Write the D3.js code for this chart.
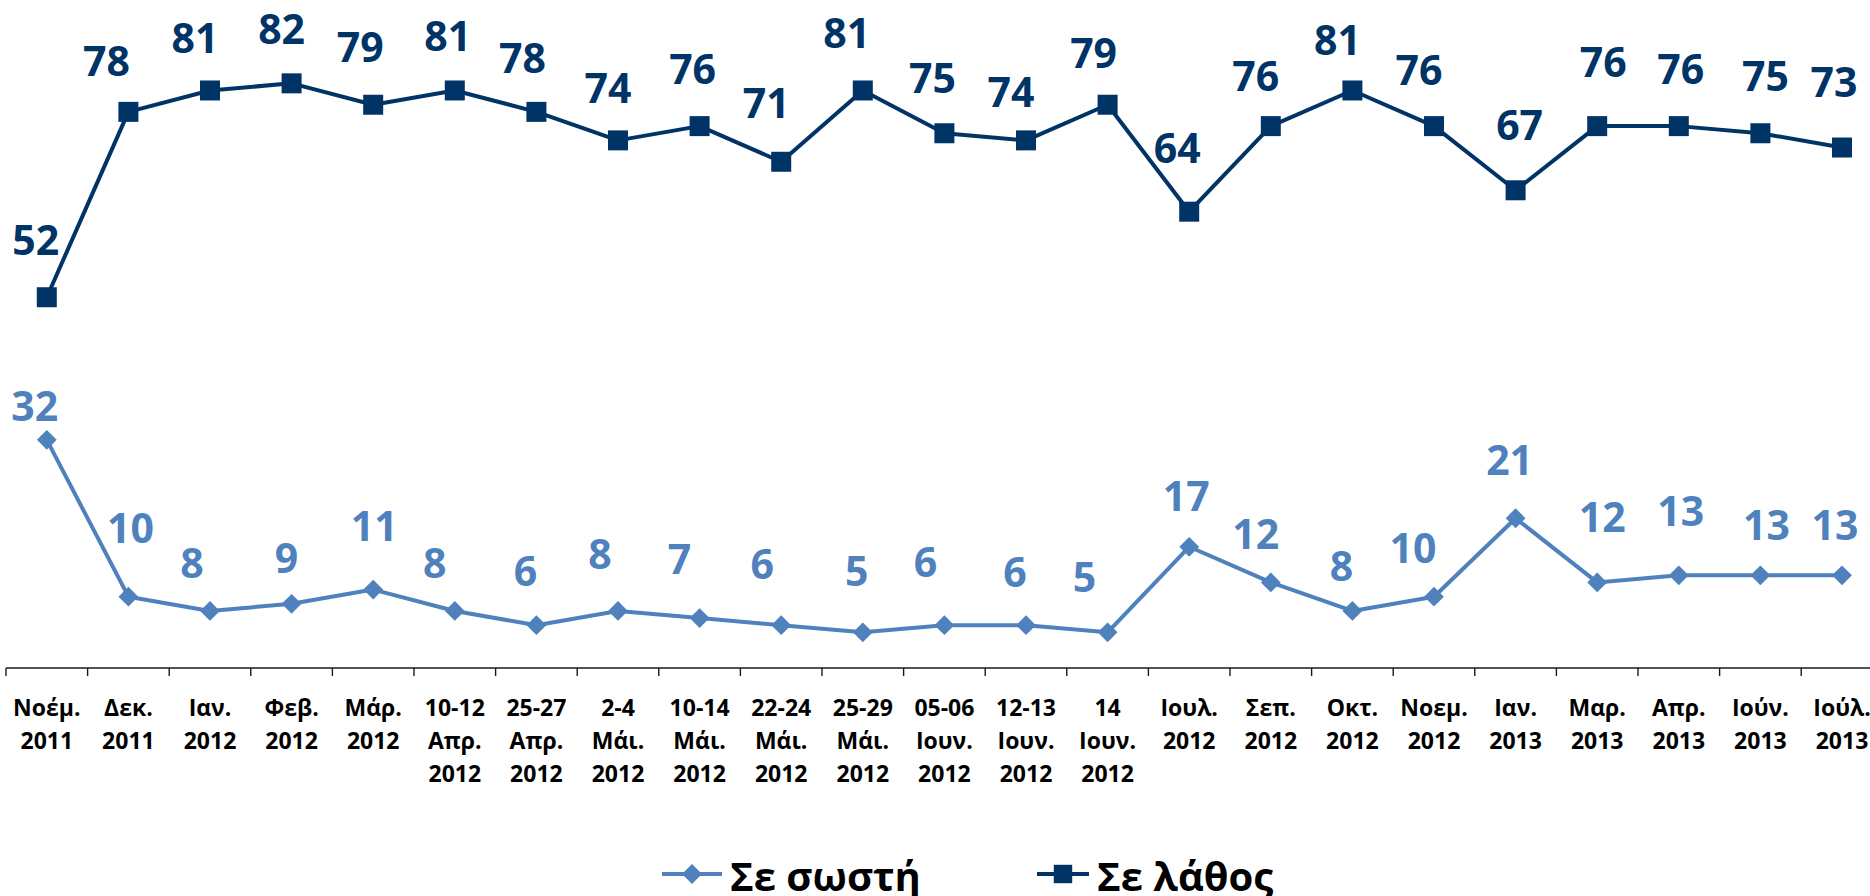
<!DOCTYPE html>
<html>
<head>
<meta charset="utf-8">
<script src="https://cdn.jsdelivr.net/npm/d3@7"></script>
<style>
  html, body { margin: 0; padding: 0; background: #fff; overflow: hidden; }
  svg { display: block; }
  text { font-family: "Open Sans", "Noto Sans", sans-serif; font-weight: 700; }
</style>
</head>
<body>
<svg id="chart" width="1870" height="896"></svg>
<script>
// ---- data ----
const categories = [
  "Νοέμ.|2011", "Δεκ.|2011", "Ιαν.|2012", "Φεβ.|2012", "Μάρ.|2012",
  "10-12|Απρ.|2012", "25-27|Απρ.|2012", "2-4|Μάι.|2012", "10-14|Μάι.|2012",
  "22-24|Μάι.|2012", "25-29|Μάι.|2012", "05-06|Ιουν.|2012", "12-13|Ιουν.|2012",
  "14|Ιουν.|2012", "Ιουλ.|2012", "Σεπ.|2012", "Οκτ.|2012", "Νοεμ.|2012",
  "Ιαν.|2013", "Μαρ.|2013", "Απρ.|2013", "Ιούν.|2013", "Ιούλ.|2013"
];
const seriesNames = ["Σε σωστή", "Σε λάθος"];
const rightValues = [32, 10, 8, 9, 11, 8, 6, 8, 7, 6, 5, 6, 6, 5, 17, 12, 8, 10, 21, 12, 13, 13, 13];
const wrongValues = [52, 78, 81, 82, 79, 81, 78, 74, 76, 71, 81, 75, 74, 79, 64, 76, 81, 76, 67, 76, 76, 75, 73];

// manual data-label nudges (px, relative to marker), as placed in the original
const rightLabelDx = [-12, 2, -18, -5, 1, -20, -11, -18, -20, -19, -6, -19, -11, -23, -3, -15, -11, -21, -6, 5, 2, 6, -7];
const rightLabelDy = [-34, -68, -48, -46, -63, -48, -54, -57, -59, -61, -61, -63, -53, -55, -51, -48, -45, -48, -58, -65, -64, -50, -50];
const wrongLabelDx = [-11, -22, -15, -10, -13, -7, -14, -10, -7, -15, -16, -12, -15, -14, -12, -15, -15, -15, 4, 6, 2, 5, -8];
const wrongLabelDy = [-57, -51, -52, -54, -57, -54, -54, -52, -57, -59, -57, -55, -48, -51, -63, -50, -50, -56, -65, -64, -57, -57, -65];

// ---- styles ----
const lightColor = "#4F81BD";
const darkColor = "#003366";

const svg = d3.select("#chart");

const x = d3.scaleBand().domain(categories).range([6, 6 + 23 * 81.6]).padding(0);
const y = d3.scaleLinear().domain([0, 90]).range([668, 668 - 90 * 7.13]);
const cx = c => x(c) + x.bandwidth() / 2;

// ---- x axis ----
const axisG = svg.append("g").attr("transform", "translate(0,668)");
axisG.append("line")
  .attr("x1", x.range()[0]).attr("x2", x.range()[1])
  .attr("y1", 0).attr("y2", 0)
  .attr("stroke", "#1a1a1a").attr("stroke-width", 1.6);
const bounds = d3.range(categories.length + 1).map(i => x.range()[0] + i * x.bandwidth());
axisG.selectAll("line.tick").data(bounds).enter().append("line")
  .attr("class", "tick")
  .attr("x1", d => d).attr("x2", d => d)
  .attr("y1", 0).attr("y2", 8)
  .attr("stroke", "#1a1a1a").attr("stroke-width", 1.4);

const tickLabels = svg.append("g").selectAll("text").data(categories).enter().append("text")
  .attr("x", d => cx(d))
  .attr("y", 716)
  .attr("text-anchor", "middle")
  .attr("font-size", 23)
  .attr("fill", "#000");
tickLabels.each(function(d) {
  const t = d3.select(this);
  d.split("|").forEach((line, i) => {
    t.append("tspan").attr("x", cx(d)).attr("y", 716 + i * 33).text(line);
  });
});

// ---- lines ----
function drawSeries(values, color, markerType, dxs, dys) {
  const data = values.map((v, i) => ({ c: categories[i], v, i }));
  const line = d3.line().x(d => cx(d.c)).y(d => y(d.v));
  svg.append("path").datum(data)
    .attr("d", line)
    .attr("fill", "none")
    .attr("stroke", color)
    .attr("stroke-width", 4)
    .attr("stroke-linejoin", "round");
  const sym = markerType === "square" ? d3.symbolSquare : d3.symbolDiamond2;
  const size = markerType === "square" ? 400 : 250;
  svg.append("g").selectAll("path").data(data).enter().append("path")
    .attr("d", d3.symbol().type(sym).size(size))
    .attr("transform", d => `translate(${cx(d.c)},${y(d.v)})`)
    .attr("fill", color);
  svg.append("g").selectAll("text").data(data).enter().append("text")
    .attr("x", d => cx(d.c) + dxs[d.i])
    .attr("y", d => y(d.v) + dys[d.i])
    .attr("dy", "0.36em")
    .attr("text-anchor", "middle")
    .attr("font-size", 41)
    .attr("fill", color)
    .text(d => d.v);
}
drawSeries(rightValues, lightColor, "diamond", rightLabelDx, rightLabelDy);
drawSeries(wrongValues, darkColor, "square", wrongLabelDx, wrongLabelDy);

// ---- legend ----
const legendItems = [
  { name: seriesNames[0], color: lightColor, type: "diamond", x0: 662, x1: 722, tx: 730 },
  { name: seriesNames[1], color: darkColor, type: "square", x0: 1037, x1: 1089, tx: 1097 }
];
const lg = svg.append("g");
legendItems.forEach(it => {
  lg.append("line")
    .attr("x1", it.x0).attr("x2", it.x1).attr("y1", 874).attr("y2", 874)
    .attr("stroke", it.color).attr("stroke-width", 4);
  lg.append("path")
    .attr("d", d3.symbol().type(it.type === "square" ? d3.symbolSquare : d3.symbolDiamond2)
      .size(it.type === "square" ? 340 : 250))
    .attr("transform", `translate(${(it.x0 + it.x1) / 2},874)`)
    .attr("fill", it.color);
  lg.append("text")
    .attr("x", it.tx).attr("y", 891)
    .attr("font-size", 40)
    .attr("fill", "#000")
    .text(it.name);
});
</script>
</body>
</html>
